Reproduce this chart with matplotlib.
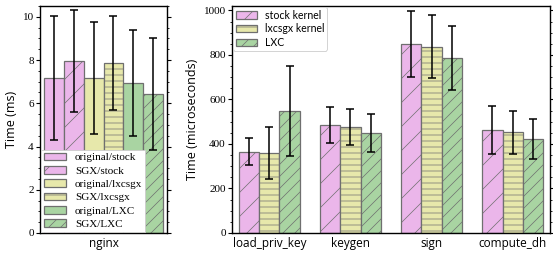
import numpy as np
import matplotlib
matplotlib.use('Agg')
import matplotlib.pyplot as plt
from matplotlib.ticker import MultipleLocator

################################################################################
# Dados
#
nginx_labels = ['original/stock', 'SGX/stock', 'original/lxcsgx',
                'SGX/lxcsgx', 'original/LXC', 'SGX/LXC']
nginx_mean = [7.16, 7.95, 7.16, 7.86, 6.93, 6.42]
nginx_err = [2.87, 2.37, 2.60, 2.18, 2.45, 2.60]

ops = ['load_priv_key', 'keygen', 'sign', 'compute_dh']
kernels = ['stock kernel', 'lxcsgx kernel', 'LXC']
op_mean = {
    'stock kernel':  [365, 485, 848, 462],
    'lxcsgx kernel': [360, 476, 838, 453],
    'LXC':           [548, 449, 785, 423],
}
op_err = {
    'stock kernel':  [60, 82, 148, 107],
    'lxcsgx kernel': [118, 82, 140, 96],
    'LXC':           [202, 87, 144, 90],
}

PINK = '#ebb6ea'
YELLOW = '#e7e8ab'
GREEN = '#a9d4a2'
EDGE = '#6f6f6f'

nginx_cores = [PINK, PINK, YELLOW, YELLOW, GREEN, GREEN]
nginx_hatch = ['', '/', '', '--', '', '//']
kern_cores = [PINK, YELLOW, GREEN]
kern_hatch = ['/', '--', '//']

SERIF = 'Liberation Serif'
SANS = 'Open Sans'

# figura em 72 dpi para o espacamento das hachuras; S converte os tamanhos
DPI = 72
S = 100 / DPI

plt.rcParams['hatch.linewidth'] = 0.5 * S
plt.rcParams['font.family'] = SERIF

fig = plt.figure(figsize=(553 / DPI, 256 / DPI), dpi=DPI)
ax1 = fig.add_axes([40 / 553, 1 - 233 / 256, 127 / 553, 227 / 256])
ax2 = fig.add_axes([232 / 553, 1 - 233 / 256, 318 / 553, 227 / 256])

# Painel da esquerda: nginx
w = 0.156
for i, lab in enumerate(nginx_labels):
    x = (i - 2.5) * w
    ax1.bar(x, nginx_mean[i], w, color=nginx_cores[i], edgecolor=EDGE,
            linewidth=0.9 * S, hatch=nginx_hatch[i], label=lab, zorder=2)
    ax1.errorbar(x, nginx_mean[i], yerr=nginx_err[i], fmt='none',
                 ecolor='black', elinewidth=1.1 * S, capsize=3 * S,
                 capthick=1.1 * S, zorder=3)
ax1.set_xlim(-0.5, 0.5)
ax1.set_ylim(0, 10.5)
ax1.set_xticks([0])
ax1.set_xticklabels(['nginx'], fontfamily=SANS, fontsize=8.5 * S)
ax1.set_ylabel('Time (ms)', fontfamily=SANS, fontsize=9 * S, labelpad=3 * S)
ax1.yaxis.set_major_locator(MultipleLocator(2))
ax1.yaxis.set_minor_locator(MultipleLocator(0.5))
leg1 = ax1.legend(loc='lower left', fontsize=8 * S, borderaxespad=0.1,
                  labelspacing=0.32, handlelength=2.0, handleheight=0.7,
                  borderpad=0.25, handletextpad=0.8, fancybox=False,
                  framealpha=1, edgecolor='#cccccc')
leg1.get_frame().set_linewidth(0.6 * S)

# Painel da direita: operacoes
bw = 0.25
x = np.arange(len(ops))
for j, k in enumerate(kernels):
    xs = x + (j - 1) * bw
    ax2.bar(xs, op_mean[k], bw, color=kern_cores[j], edgecolor=EDGE,
            linewidth=0.9 * S, hatch=kern_hatch[j], label=k, zorder=2)
    ax2.errorbar(xs, op_mean[k], yerr=op_err[k], fmt='none', ecolor='black',
                 elinewidth=1.1 * S, capsize=3 * S, capthick=1.1 * S, zorder=3)
ax2.set_xlim(-0.46, 3.46)
ax2.set_ylim(0, 1020)
ax2.set_xticks(x)
ax2.set_xticklabels(ops, fontfamily=SANS, fontsize=8.5 * S)
ax2.set_ylabel('Time (microseconds)', fontfamily=SANS, fontsize=9 * S,
               labelpad=3 * S)
ax2.yaxis.set_major_locator(MultipleLocator(200))
ax2.yaxis.set_minor_locator(MultipleLocator(50))
leg2 = ax2.legend(loc='upper left', fontsize=7.6 * S, borderaxespad=0.1,
                  labelspacing=0.25, handlelength=2.0, handleheight=0.7,
                  borderpad=0.25, handletextpad=0.8, framealpha=1,
                  edgecolor='#cccccc')
leg2.get_frame().set_linewidth(0.6 * S)
for t in leg2.get_texts():
    t.set_fontfamily('Lato')

for ax in (ax1, ax2):
    ax.tick_params(axis='y', which='major', direction='out', length=3 * S,
                   width=0.8 * S, labelsize=8 * S, right=True, pad=1.5 * S)
    ax.tick_params(axis='y', which='minor', direction='out', length=1.5 * S,
                   width=0.6 * S, right=True)
    ax.tick_params(axis='x', length=0, pad=3 * S)
    for s in ax.spines.values():
        s.set_linewidth(1.0 * S)

fig.savefig('out.png', dpi=DPI)
